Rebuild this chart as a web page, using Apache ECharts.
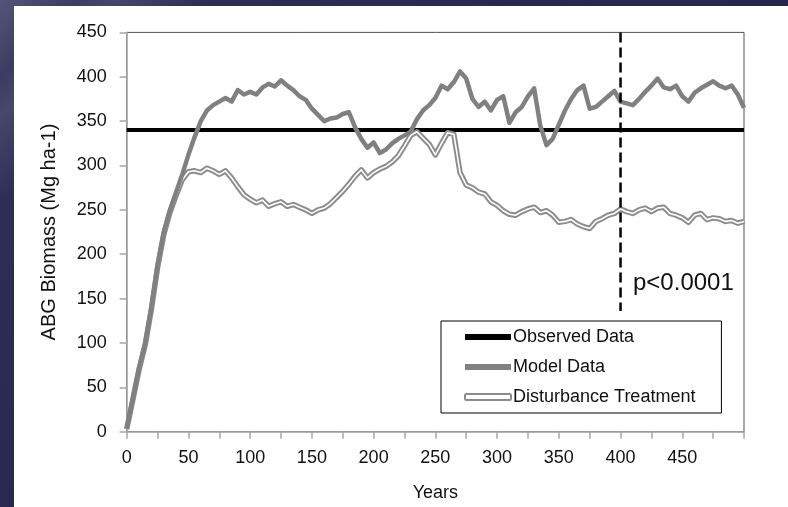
<!DOCTYPE html>
<html>
<head>
<meta charset="utf-8">
<script src="https://cdn.jsdelivr.net/npm/echarts@6/dist/echarts.min.js"></script>
<style>
  html, body { margin: 0; padding: 0; width: 788px; height: 507px; overflow: hidden; }
  body {
    background: linear-gradient(135deg, #55557a 0%, #3c3c62 6%, #47476c 9%, #2e2e55 16%, #282850 40%, #232349 100%);
  }
  #panel { position: absolute; left: 14px; top: 6px; width: 774px; height: 501px; background: #ffffff; }
</style>
</head>
<body>
<div id="panel"></div>
<script>
// Simulation years (x values)
const years = [
  0, 5, 10, 15, 20, 25, 30, 35, 40, 45, 50, 55, 60, 65, 70, 75, 80, 85, 90, 95,
  100, 105, 110, 115, 120, 125, 130, 135, 140, 145, 150, 155, 160, 165, 170, 175, 180, 185, 190, 195,
  200, 205, 210, 215, 220, 225, 230, 235, 240, 245, 250, 255, 260, 265, 270, 275, 280, 285, 290, 295,
  300, 305, 310, 315, 320, 325, 330, 335, 340, 345, 350, 355, 360, 365, 370, 375, 380, 385, 390, 395,
  400, 405, 410, 415, 420, 425, 430, 435, 440, 445, 450, 455, 460, 465, 470, 475, 480, 485, 490, 495,
  500
];

// Modelled above-ground biomass (Mg ha-1)
const modelData = [
  3, 38, 72, 100, 140, 188, 225, 250, 270, 290, 312, 332, 350, 362, 368, 372, 376, 372, 385, 380,
  383, 380, 388, 392, 389, 396, 390, 385, 378, 374, 364, 357, 350, 353, 354, 358, 360, 343, 330, 320,
  326, 314, 318, 325, 330, 334, 338, 352, 362, 368, 376, 390, 386, 394, 406, 398, 375, 366, 372, 362,
  374, 378, 348, 360, 366, 378, 387, 345, 323, 330, 346, 362, 375, 385, 390, 364, 366, 372, 378, 384,
  372, 370, 368, 375, 383, 390, 398, 388, 386, 390, 378, 372, 382, 387, 391, 395, 390, 387, 390, 380,
  365
];

// Biomass under the disturbance treatment (Mg ha-1)
const disturbanceData = [
  3, 36, 70, 98, 138, 185, 222, 247, 266, 284, 293, 294, 292, 297, 294, 290, 294, 286, 276, 267,
  262, 258, 261, 254, 257, 259, 254, 256, 253, 250, 246, 250, 252, 257, 264, 271, 279, 288, 295, 286,
  292, 296, 299, 304, 311, 322, 334, 338, 331, 324, 312, 325, 337, 335, 292, 278, 275, 270, 268, 259,
  255, 249, 245, 244, 248, 251, 253, 247, 249, 244, 236, 237, 239, 234, 231, 229, 237, 240, 244, 246,
  251, 248, 246, 250, 252, 248, 252, 253, 246, 244, 241, 236, 244, 246, 239, 241, 240, 237, 238, 235,
  237
];

// Observed biomass level and the year marked by the dashed reference line
const observedValue = 340;
const observedSpan = [0, 500];
const markerYear = 400;
const markerSpan = [450, 136];
const pLabel = 'p<0.0001';

const yTicks = { min: 0, max: 450, interval: 50 };
const xTicks = { min: 0, max: 500, interval: 25, labelEvery: 50 };

const pair = (xs, ys) => xs.map((x, i) => [x, ys[i]]);

const chart = echarts.init(document.getElementById('panel'), null, { renderer: 'canvas' });

const font = '"Liberation Sans", Arial, sans-serif';

chart.setOption({
  animation: false,
  backgroundColor: '#ffffff',
  grid: {
    left: 112.7, top: 26.4, right: 44, bottom: 75.3,
    show: true, borderColor: '#505050', borderWidth: 1, backgroundColor: 'transparent'
  },
  xAxis: {
    type: 'value',
    min: xTicks.min, max: xTicks.max, interval: xTicks.interval,
    name: 'Years', nameLocation: 'middle', nameGap: 52,
    nameTextStyle: { fontFamily: font, fontSize: 18, color: '#111' },
    axisLine: { show: true, lineStyle: { color: '#a6a6a6', width: 1.5 } },
    axisTick: { show: true, inside: false, length: 7, lineStyle: { color: '#a6a6a6', width: 1.5 } },
    axisLabel: {
      margin: 17, fontFamily: font, fontSize: 18, color: '#111',
      formatter: v => (v % xTicks.labelEvery === 0 && v < xTicks.max) ? String(v) : ''
    },
    splitLine: { show: false }
  },
  yAxis: {
    type: 'value',
    min: yTicks.min, max: yTicks.max, interval: yTicks.interval,
    name: 'ABG Biomass (Mg ha-1)', nameLocation: 'middle', nameGap: 67, nameRotate: 90,
    nameTextStyle: { fontFamily: font, fontSize: 20, color: '#111' },
    axisLine: { show: true, lineStyle: { color: '#a6a6a6', width: 1.5 } },
    axisTick: { show: true, inside: false, length: 7, lineStyle: { color: '#a6a6a6', width: 1.5 } },
    axisLabel: { margin: 20, fontFamily: font, fontSize: 18, color: '#111' },
    splitLine: { show: false }
  },
  legend: {
    orient: 'vertical',
    left: 427, top: 315,
    padding: [5, 26, 5, 23],
    itemGap: 8,
    itemWidth: 46, itemHeight: 6,
    borderColor: '#000', borderWidth: 1,
    backgroundColor: '#ffffff',
    textStyle: { fontFamily: font, fontSize: 18, color: '#111', lineHeight: 22, padding: [0, 0, 0, -3] },
    data: [
      { name: 'Observed Data', icon: 'rect', itemStyle: { color: '#000000', borderWidth: 0 } },
      { name: 'Model Data', icon: 'rect', itemStyle: { color: '#808080', borderWidth: 0 } },
      { name: 'Disturbance Treatment', icon: 'roundRect', itemStyle: { color: '#ffffff', borderColor: '#8c8c8c', borderWidth: 2 } }
    ]
  },
  graphic: [
    {
      type: 'text', left: 619, top: 265,
      style: { text: pLabel, font: '24px "Liberation Sans", Arial, sans-serif', fill: '#111' }
    }
  ],
  series: [
    {
      name: 'Observed Data', type: 'line', showSymbol: false, symbol: 'none', z: 2,
      lineStyle: { color: '#000000', width: 4 },
      itemStyle: { color: '#000000' },
      data: observedSpan.map(x => [x, observedValue])
    },
    {
      name: 'Disturbance Treatment', type: 'line', showSymbol: false, symbol: 'none', z: 3,
      lineStyle: { color: '#8c8c8c', width: 5.5, join: 'round' },
      itemStyle: { color: '#8c8c8c' },
      data: pair(years, disturbanceData)
    },
    {
      name: 'Disturbance inner', type: 'line', showSymbol: false, symbol: 'none', z: 4, silent: true,
      lineStyle: { color: '#ffffff', width: 1.6, join: 'round' },
      data: pair(years, disturbanceData)
    },
    {
      name: 'Model Data', type: 'line', showSymbol: false, symbol: 'none', z: 5,
      lineStyle: { color: '#808080', width: 4.5, join: 'round' },
      itemStyle: { color: '#808080' },
      data: pair(years, modelData)
    },
    {
      name: 'Marker', type: 'line', showSymbol: false, symbol: 'none', z: 6, silent: true,
      lineStyle: { color: '#000000', width: 2.5, type: [10, 5] },
      data: markerSpan.map(v => [markerYear, v])
    }
  ]
});
</script>
</body>
</html>
